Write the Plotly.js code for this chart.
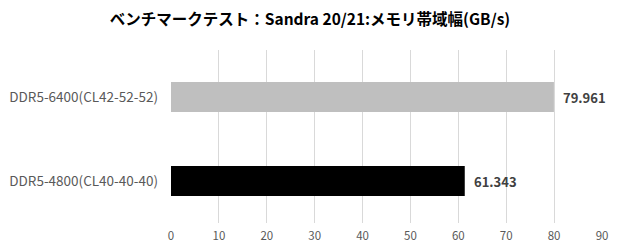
<!DOCTYPE html>
<html>
<head>
<meta charset="utf-8">
<script src="https://cdn.plot.ly/plotly-3.0.1.min.js"></script>
<style>html,body{margin:0;padding:0;background:#fff}#chart{width:620px;height:250px}</style>
</head>
<body>
<div id="chart"></div>
<script>
const categories = ['DDR5-4800(CL40-40-40)', 'DDR5-6400(CL42-52-52)'];
const values = [61.343, 79.961];
const valueLabels = ['61.343', '79.961'];
const barColors = ['#000000', '#bfbfbf'];
const tickValues = [0, 10, 20, 30, 40, 50, 60, 70, 80, 90];
const titleText = 'ベンチマークテスト：Sandra 20/21:メモリ帯域幅(GB/s)';

const trace = {
  type: 'bar',
  orientation: 'h',
  y: categories,
  x: values,
  marker: {color: barColors},
  width: 0.357,
  hoverinfo: 'none'
};

const annotations = categories.map(function (c, i) {
  return {
    x: values[i], y: c, xref: 'x', yref: 'y',
    text: '<b>' + valueLabels[i] + '</b>',
    showarrow: false, xanchor: 'left', yanchor: 'middle', xshift: 7,
    font: {family: 'Noto Sans CJK JP, sans-serif', size: 13, color: '#404040'}
  };
});

const layout = {
  width: 620, height: 250,
  margin: {l: 171, r: 18, t: 50, b: 27},
  paper_bgcolor: '#ffffff', plot_bgcolor: '#ffffff',
  showlegend: false,
  annotations: annotations,
  title: {
    text: '<b>' + titleText + '</b>',
    font: {family: 'Noto Sans CJK JP, sans-serif', size: 15.5, color: '#000000'},
    x: 0.5, xanchor: 'center', xref: 'container',
    y: 0.92, yanchor: 'middle', yref: 'container'
  },
  xaxis: {
    range: [0, 90],
    tickvals: tickValues,
    ticktext: tickValues.map(String),
    showgrid: true, gridcolor: '#d9d9d9', gridwidth: 1,
    zeroline: false, showline: false,
    ticks: '', ticklen: 0, ticklabelstandoff: 4,
    tickfont: {family: 'Noto Sans CJK JP, sans-serif', size: 11.5, color: '#595959'},
    fixedrange: true
  },
  yaxis: {
    range: [-0.5, 1.56],
    showgrid: false, zeroline: false, showline: false,
    ticks: '', ticklabelstandoff: 12,
    tickfont: {family: 'Noto Sans CJK JP, sans-serif', size: 13.5, color: '#595959'},
    fixedrange: true
  }
};

Plotly.newPlot('chart', [trace], layout, {staticPlot: true, displayModeBar: false});
</script>
</body>
</html>
